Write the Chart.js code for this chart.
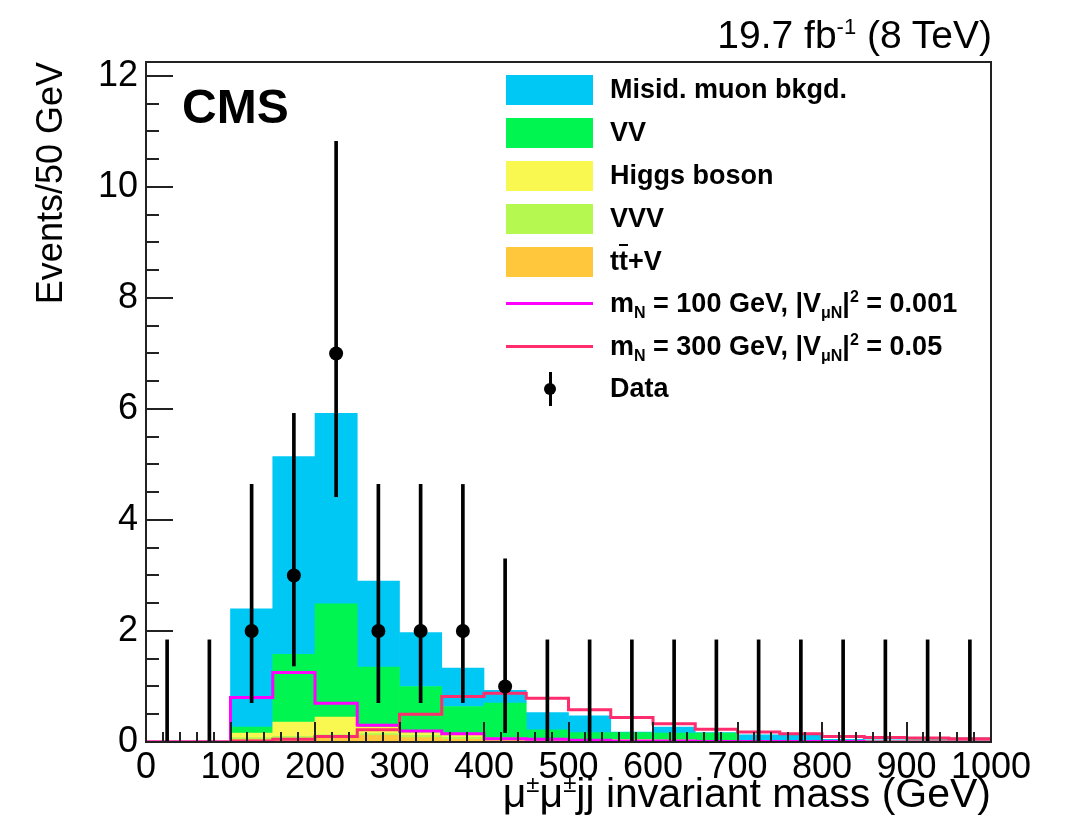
<!DOCTYPE html>
<html>
<head>
<meta charset="utf-8">
<script src="https://cdn.jsdelivr.net/npm/chart.js@4.4.1/dist/chart.umd.min.js"></script>
<style>
    html, body { margin: 0; padding: 0; background: #fff; }
    #wrap { position: relative; width: 1066px; height: 840px; font-family: 'Liberation Sans', Arial, Helvetica, sans-serif; color: #000; }
    #chart { position: absolute; left: 0; top: 0; }
    .txt { position: absolute; white-space: nowrap; line-height: 1; }
    .txt sup { line-height: 0; }
    .leg { position: absolute; left: 506px; width: 480px; height: 30px; }
    .leg .box { position: absolute; left: 0; top: 0; width: 87px; height: 30px; }
    .leg .ln { position: absolute; left: 0; top: 13px; width: 87px; height: 3px; }
    .leg .lab { position: absolute; left: 104px; top: 1px; font-weight: bold; font-size: 27px; line-height: 27px; white-space: nowrap; }
    .leg sub, .leg sup { font-size: 16px; line-height: 0; }
    .dot { position: absolute; left: 38px; top: 9px; width: 12px; height: 12px; border-radius: 50%; background: #000; }
    .bar { position: absolute; left: 42.5px; top: -2px; width: 3px; height: 34px; background: #000; }
</style>
</head>
<body>
<div id="wrap">
    <canvas id="chart" width="1066" height="840"></canvas>

    <div class="txt" style="right:74px; top:15px; font-size:39px;">19.7 fb<sup style="font-size:22px;">-1</sup> (8 TeV)</div>
    <div class="txt" style="left:182px; top:83px; font-size:48px; font-weight:bold;">CMS</div>
    <div class="txt" style="right:75px; top:773px; font-size:41px;">&mu;<sup style="font-size:24px;">&plusmn;</sup>&mu;<sup style="font-size:24px;">&plusmn;</sup>jj invariant mass (GeV)</div>

    <div class="leg" style="top:75px;"><div class="box" style="background:#00c8f5;"></div><div class="lab">Misid. muon bkgd.</div></div>
    <div class="leg" style="top:118px;"><div class="box" style="background:#00f550;"></div><div class="lab">VV</div></div>
    <div class="leg" style="top:161px;"><div class="box" style="background:#f8f850;"></div><div class="lab">Higgs boson</div></div>
    <div class="leg" style="top:204px;"><div class="box" style="background:#b4f850;"></div><div class="lab">VVV</div></div>
    <div class="leg" style="top:247px;"><div class="box" style="background:#ffc83c;"></div><div class="lab">t<span style="text-decoration:overline;">t</span>+V</div></div>
    <div class="leg" style="top:289px;"><div class="ln" style="background:#ff00ff;"></div><div class="lab">m<sub>N</sub> = 100 GeV, |V<sub>&mu;N</sub>|<sup>2</sup> = 0.001</div></div>
    <div class="leg" style="top:332px;"><div class="ln" style="background:#ff2d6e;"></div><div class="lab">m<sub>N</sub> = 300 GeV, |V<sub>&mu;N</sub>|<sup>2</sup> = 0.05</div></div>
    <div class="leg" style="top:374px;"><div class="bar"></div><div class="dot"></div><div class="lab">Data</div></div>
</div>

<script>
// bin lower edges (GeV), 50 GeV bins
const binLow = [0, 50, 100, 150, 200, 250, 300, 350, 400, 450, 500, 550, 600, 650, 700, 750, 800, 850, 900, 950];
const binWidth = 50;

// stacked backgrounds (events per bin), bottom to top
const ttV   = [0, 0, 0.05, 0.07, 0.10, 0.12, 0.08, 0.05, 0.03, 0.03, 0.02, 0.02, 0.02, 0.01, 0.01, 0.01, 0.01, 0.01, 0.01, 0.01];
const vvv   = [0, 0, 0.03, 0.03, 0.03, 0.03, 0.04, 0.04, 0.03, 0.02, 0.02, 0.02, 0.01, 0.02, 0.01, 0.01, 0.01, 0.01, 0.01, 0.01];
const higgs = [0, 0, 0.08, 0.26, 0.32, 0.12, 0.05, 0.03, 0.01, 0.01, 0.01, 0.01, 0.01, 0, 0, 0, 0, 0, 0, 0];
const vv    = [0, 0, 0.11, 1.22, 2.04, 1.08, 0.83, 0.52, 0.63, 0.16, 0.12, 0.12, 0.12, 0.13, 0.01, 0.01, 0.01, 0.01, 0.02, 0.05];
const misid = [0, 0, 2.13, 3.56, 3.43, 1.55, 0.97, 0.69, 0.23, 0.31, 0.30, 0.01, 0.11, 0.01, 0.10, 0.12, 0.02, 0.01, 0, 0];

// signal hypotheses
const sig100 = [0, 0, 0.80, 1.25, 0.70, 0.30, 0.20, 0.15, 0.06, 0.05, 0.03, 0.02, 0.02, 0.01, 0.01, 0.01, 0.01, 0, 0, 0];
const sig300 = [0, 0, 0.02, 0.05, 0.10, 0.22, 0.50, 0.82, 0.88, 0.79, 0.58, 0.44, 0.33, 0.23, 0.18, 0.15, 0.10, 0.08, 0.07, 0.06];

// observed data and error bar ends
const dataCounts = [0, 0, 2, 3, 7, 2, 2, 2, 1, 0, 0, 0, 0, 0, 0, 0, 0, 0, 0, 0];
const dataLow    = [0, 0, 0.71, 1.37, 4.42, 0.71, 0.71, 0.71, 0.17, 0, 0, 0, 0, 0, 0, 0, 0, 0, 0, 0];
const dataHigh   = [1.84, 1.84, 4.64, 5.92, 10.82, 4.64, 4.64, 4.64, 3.30, 1.84, 1.84, 1.84, 1.84, 1.84, 1.84, 1.84, 1.84, 1.84, 1.84, 1.84];

// axis ticks
const xTicks = [0, 100, 200, 300, 400, 500, 600, 700, 800, 900, 1000];
const yTicks = [0, 2, 4, 6, 8, 10, 12];
const yMax = 12.25;

const centers = binLow.map(v => v + binWidth / 2);
const atCenters = vals => vals.map((v, i) => ({ x: centers[i], y: v }));
// histogram outline: one point per lower edge plus the last upper edge
const steps = vals => binLow.map((v, i) => ({ x: v, y: vals[i] }))
    .concat([{ x: binLow[binLow.length - 1] + binWidth, y: vals[vals.length - 1] }]);

const histBar = (label, vals, color) => ({
    type: 'bar', label: label, data: atCenters(vals), backgroundColor: color,
    borderWidth: 0, stack: 'bkg', yAxisID: 'y', order: 10,
    barPercentage: 1, categoryPercentage: 1
});

const axisFont = { family: "'Liberation Sans', Arial, sans-serif", size: 36 };

// inward ROOT-style ticks and the frame
const rootFrame = {
    id: 'rootFrame',
    afterDatasetsDraw(chart) {
        const { ctx, chartArea: a, scales } = chart;
        ctx.save();
        ctx.strokeStyle = '#222';
        ctx.lineWidth = 2;
        ctx.beginPath();
        for (let i = 0; i <= Math.floor(yMax / 0.5 + 1e-6); i++) {
            const py = Math.round(scales.y.getPixelForValue(i * 0.5));
            const len = i % 4 === 0 ? 27 : 13;
            ctx.moveTo(a.left, py); ctx.lineTo(a.left + len, py);
        }
        for (let i = 0; i <= 50; i++) {
            const px = Math.round(scales.x.getPixelForValue(i * 20));
            const len = i % 5 === 0 ? 20 : 10;
            ctx.moveTo(px, a.bottom); ctx.lineTo(px, a.bottom - len);
        }
        ctx.stroke();
        ctx.strokeRect(a.left, a.top, a.right - a.left, a.bottom - a.top);
        ctx.restore();
    }
};

new Chart(document.getElementById('chart'), {
    type: 'bar',
    data: {
        datasets: [
            histBar('tt+V', ttV, '#ffc83c'),
            histBar('VVV', vvv, '#b4f850'),
            histBar('Higgs boson', higgs, '#f8f850'),
            histBar('VV', vv, '#00f550'),
            histBar('Misid. muon bkgd.', misid, '#00c8f5'),
            {
                type: 'line', label: 'mN = 100 GeV', data: steps(sig100), stepped: 'before',
                borderColor: '#ff00ff', borderWidth: 3, pointRadius: 0, fill: false,
                yAxisID: 'yl', order: 5
            },
            {
                type: 'line', label: 'mN = 300 GeV', data: steps(sig300), stepped: 'before',
                borderColor: '#ff2d6e', borderWidth: 3, pointRadius: 0, fill: false,
                yAxisID: 'yl', order: 4
            },
            {
                type: 'bar', label: 'err', grouped: false,
                data: centers.map((c, i) => ({ x: c, y: [dataLow[i], dataHigh[i]] })),
                backgroundColor: '#000', borderWidth: 0, barThickness: 3,
                yAxisID: 'yl', order: 2
            },
            {
                type: 'line', label: 'Data', data: atCenters(dataCounts), showLine: false,
                pointRadius: ctx => (ctx.raw && ctx.raw.y > 0 ? 7 : 0),
                pointBackgroundColor: '#000', pointBorderWidth: 0,
                yAxisID: 'yl', order: 1
            }
        ]
    },
    options: {
        responsive: false,
        animation: false,
        layout: { padding: { top: 62, right: 75, left: 0, bottom: 0 } },
        plugins: { legend: { display: false }, tooltip: { enabled: false } },
        scales: {
            x: {
                type: 'linear', min: 0, max: 1000, offset: false,
                grid: { display: false, drawTicks: false, offset: false },
                border: { display: false },
                afterBuildTicks: s => { s.ticks = xTicks.map(v => ({ value: v })); },
                afterFit: s => { s.height = 98; },
                ticks: {
                    autoSkip: false, maxRotation: 0, padding: 4, color: '#000',
                    callback: v => String(v), font: axisFont
                }
            },
            y: {
                min: 0, max: yMax, stacked: true,
                grid: { display: false, drawTicks: false },
                border: { display: false },
                afterBuildTicks: s => { s.ticks = yTicks.map(v => ({ value: v })); },
                afterFit: s => { s.width = 146; },
                ticks: { padding: 8, color: '#000', callback: v => String(v), font: axisFont },
                title: {
                    display: true, text: 'Events/50 GeV', align: 'end', color: '#000',
                    padding: { top: 30 }, font: axisFont
                }
            },
            yl: { display: false, min: 0, max: yMax, stacked: false }
        }
    },
    plugins: [rootFrame]
});
</script>
</body>
</html>
